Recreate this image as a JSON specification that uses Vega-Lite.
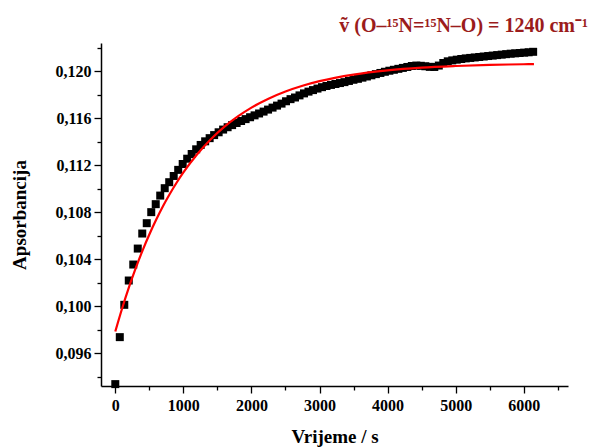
{
  "$schema": "https://vega.github.io/schema/vega-lite/v6.json",
  "width": 467,
  "height": 343,
  "autosize": {"type": "none"},
  "padding": {"left": 101, "top": 43, "right": 33, "bottom": 62},
  "background": "white",
  "title": {
    "text": "ṽ (O–¹⁵N=¹⁵N–O) = 1240 cm⁻¹",
    "anchor": "end",
    "font": "Liberation Serif",
    "fontSize": 20,
    "fontWeight": "bold",
    "color": "#9b1c1c",
    "dx": 20,
    "dy": 22,
    "baseline": "bottom",
    "offset": 9
  },
  "config": {
    "view": {"stroke": null},
    "axis": {
      "domainColor": "black",
      "domainWidth": 1.5,
      "tickColor": "black",
      "tickWidth": 1.3,
      "grid": false,
      "labelFont": "Liberation Serif",
      "labelFontWeight": "bold",
      "labelFontSize": 16,
      "labelColor": "black",
      "titleFont": "Liberation Serif",
      "titleFontWeight": "bold",
      "titleFontSize": 19,
      "titleColor": "black"
    }
  },
  "datasets": {
    "pts": [
      {"t": 0, "a": 0.09336}, {"t": 66, "a": 0.09736}, {"t": 132, "a": 0.10011}, {"t": 198, "a": 0.10218},
      {"t": 264, "a": 0.10354}, {"t": 330, "a": 0.10490}, {"t": 396, "a": 0.10618}, {"t": 462, "a": 0.10706},
      {"t": 528, "a": 0.10800}, {"t": 594, "a": 0.10868}, {"t": 660, "a": 0.10941}, {"t": 726, "a": 0.11004},
      {"t": 792, "a": 0.11055}, {"t": 858, "a": 0.11108}, {"t": 924, "a": 0.11160}, {"t": 990, "a": 0.11210},
      {"t": 1056, "a": 0.11255}, {"t": 1122, "a": 0.11295}, {"t": 1188, "a": 0.11335}, {"t": 1254, "a": 0.11372},
      {"t": 1320, "a": 0.11403}, {"t": 1386, "a": 0.11430}, {"t": 1452, "a": 0.11456}, {"t": 1518, "a": 0.11480},
      {"t": 1584, "a": 0.11503}, {"t": 1650, "a": 0.11523}, {"t": 1716, "a": 0.11541}, {"t": 1782, "a": 0.11559},
      {"t": 1848, "a": 0.11576}, {"t": 1914, "a": 0.11592}, {"t": 1980, "a": 0.11608}, {"t": 2046, "a": 0.11624},
      {"t": 2112, "a": 0.11640}, {"t": 2178, "a": 0.11656}, {"t": 2244, "a": 0.11673}, {"t": 2310, "a": 0.11690},
      {"t": 2376, "a": 0.11707}, {"t": 2442, "a": 0.11724}, {"t": 2508, "a": 0.11744}, {"t": 2574, "a": 0.11762},
      {"t": 2640, "a": 0.11776}, {"t": 2706, "a": 0.11794}, {"t": 2772, "a": 0.11811}, {"t": 2838, "a": 0.11826},
      {"t": 2904, "a": 0.11839}, {"t": 2970, "a": 0.11852}, {"t": 3036, "a": 0.11864}, {"t": 3102, "a": 0.11874},
      {"t": 3168, "a": 0.11883}, {"t": 3234, "a": 0.11891}, {"t": 3300, "a": 0.11899}, {"t": 3366, "a": 0.11907},
      {"t": 3432, "a": 0.11917}, {"t": 3498, "a": 0.11927}, {"t": 3564, "a": 0.11935}, {"t": 3630, "a": 0.11945},
      {"t": 3696, "a": 0.11955}, {"t": 3762, "a": 0.11965}, {"t": 3828, "a": 0.11975}, {"t": 3894, "a": 0.11985},
      {"t": 3960, "a": 0.11995}, {"t": 4026, "a": 0.12004}, {"t": 4092, "a": 0.12012}, {"t": 4158, "a": 0.12020},
      {"t": 4224, "a": 0.12028}, {"t": 4290, "a": 0.12036}, {"t": 4356, "a": 0.12044}, {"t": 4422, "a": 0.12048},
      {"t": 4488, "a": 0.12046}, {"t": 4554, "a": 0.12042}, {"t": 4620, "a": 0.12037}, {"t": 4686, "a": 0.12036},
      {"t": 4752, "a": 0.12048}, {"t": 4818, "a": 0.12070}, {"t": 4884, "a": 0.12084}, {"t": 4950, "a": 0.12092},
      {"t": 5016, "a": 0.12098}, {"t": 5082, "a": 0.12104}, {"t": 5148, "a": 0.12109}, {"t": 5214, "a": 0.12113},
      {"t": 5280, "a": 0.12117}, {"t": 5346, "a": 0.12121}, {"t": 5412, "a": 0.12125}, {"t": 5478, "a": 0.12129},
      {"t": 5544, "a": 0.12133}, {"t": 5610, "a": 0.12137}, {"t": 5676, "a": 0.12141}, {"t": 5742, "a": 0.12145},
      {"t": 5808, "a": 0.12149}, {"t": 5874, "a": 0.12152}, {"t": 5940, "a": 0.12155}, {"t": 6006, "a": 0.12158},
      {"t": 6072, "a": 0.12161}, {"t": 6138, "a": 0.12165}
    ],
    "fit": [
      {"t": 0, "a": 0.09784}, {"t": 100, "a": 0.09980}, {"t": 200, "a": 0.10159}, {"t": 300, "a": 0.10323},
      {"t": 400, "a": 0.10473}, {"t": 500, "a": 0.10610}, {"t": 600, "a": 0.10735}, {"t": 700, "a": 0.10850},
      {"t": 800, "a": 0.10954}, {"t": 900, "a": 0.11050}, {"t": 1000, "a": 0.11138}, {"t": 1200, "a": 0.11291},
      {"t": 1400, "a": 0.11419}, {"t": 1600, "a": 0.11526}, {"t": 1800, "a": 0.11615}, {"t": 2000, "a": 0.11690},
      {"t": 2250, "a": 0.11766}, {"t": 2500, "a": 0.11827}, {"t": 2750, "a": 0.11876}, {"t": 3000, "a": 0.11915},
      {"t": 3500, "a": 0.11971}, {"t": 4000, "a": 0.12007}, {"t": 4500, "a": 0.12030}, {"t": 5000, "a": 0.12044},
      {"t": 5500, "a": 0.12054}, {"t": 6000, "a": 0.12059}, {"t": 6150, "a": 0.12061}
    ]
  },
  "encoding": {
    "x": {
      "field": "t",
      "type": "quantitative",
      "scale": {"domain": [-210, 6650], "nice": false, "zero": false},
      "axis": {
        "title": "Vrijeme / s",
        "values": [0, 500, 1000, 1500, 2000, 2500, 3000, 3500, 4000, 4500, 5000, 5500, 6000, 6500],
        "labelExpr": "datum.value % 1000 === 0 ? format(datum.value, 'd') : ''",
        "tickSize": {"condition": {"test": "datum.value % 1000 === 0", "value": 7}, "value": 4},
        "labelPadding": 4,
        "titlePadding": 14
      }
    },
    "y": {
      "field": "a",
      "type": "quantitative",
      "scale": {"domain": [0.0932, 0.1224], "nice": false, "zero": false},
      "axis": {
        "title": "Apsorbancija",
        "values": [0.094, 0.096, 0.098, 0.1, 0.102, 0.104, 0.106, 0.108, 0.11, 0.112, 0.114, 0.116, 0.118, 0.12, 0.122],
        "labelExpr": "abs(round(datum.value * 250) - datum.value * 250) < 0.01 ? replace(format(datum.value, '.3f'), '.', ',') : ''",
        "tickSize": {"condition": {"test": "abs(round(datum.value * 250) - datum.value * 250) < 0.01", "value": 7}, "value": 4},
        "labelPadding": 3,
        "titlePadding": 26
      }
    }
  },
  "layer": [
    {
      "data": {"name": "pts"},
      "mark": {"type": "point", "shape": "square", "filled": true, "color": "black", "opacity": 1, "size": 64}
    },
    {
      "data": {"name": "fit"},
      "mark": {"type": "line", "color": "#ff0000", "strokeWidth": 2.2, "interpolate": "monotone"}
    }
  ]
}
